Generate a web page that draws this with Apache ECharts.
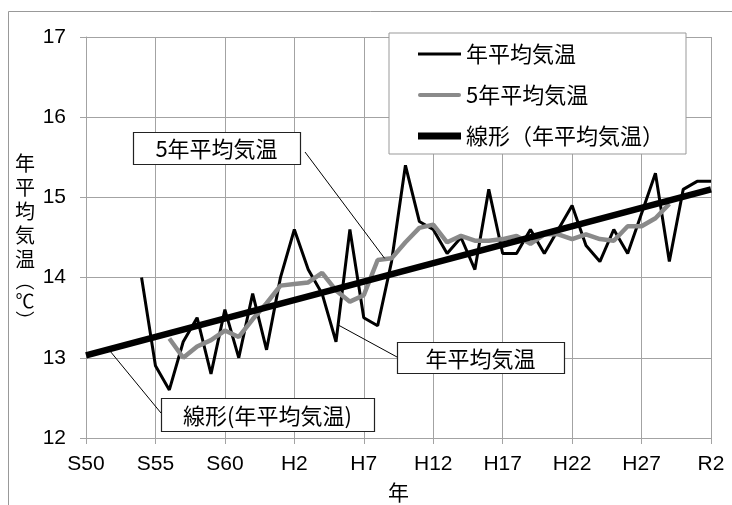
<!DOCTYPE html>
<html>
<head>
<meta charset="utf-8">
<script src="https://cdn.jsdelivr.net/npm/echarts@6/dist/echarts.min.js"></script>
<style>
  html, body { margin: 0; padding: 0; background: #fff; }
  #chart { width: 732px; height: 505px; }
</style>
</head>
<body>
<div id="chart"></div>
<script>
// One category per year, 1975 (S50) to 2020 (R2)
const yearLabels = ['S50','S51','S52','S53','S54','S55','S56','S57','S58','S59',
  'S60','S61','S62','S63','H1','H2','H3','H4','H5','H6',
  'H7','H8','H9','H10','H11','H12','H13','H14','H15','H16',
  'H17','H18','H19','H20','H21','H22','H23','H24','H25','H26',
  'H27','H28','H29','H30','R1','R2'];
// Labelled ticks on the year axis
const tickLabels = ['S50','S55','S60','H2','H7','H12','H17','H22','H27','R2'];

// Annual mean temperature (°C), from S54
const annualTemp = [null, null, null, null,
  14.0, 12.9, 12.6, 13.2, 13.5, 12.8, 13.6, 13.0, 13.8, 13.1,
  14.0, 14.6, 14.1, 13.8, 13.2, 14.6, 13.5, 13.4, 14.2, 15.4,
  14.7, 14.6, 14.3, 14.5, 14.1, 15.1, 14.3, 14.3, 14.6, 14.3,
  14.6, 14.9, 14.4, 14.2, 14.6, 14.3, 14.8, 15.3, 14.2, 15.1,
  15.2, 15.2];

// 5-year mean temperature (°C), S56 to H29
const fiveYearAvg = [null, null, null, null, null, null,
  13.24, 13.00, 13.14, 13.22, 13.34, 13.26, 13.48, 13.68, 13.90, 13.92,
  13.94, 14.06, 13.84, 13.70, 13.78, 14.22, 14.24, 14.44, 14.62, 14.66,
  14.44, 14.52, 14.46, 14.46, 14.48, 14.52, 14.42, 14.54, 14.54, 14.48,
  14.54, 14.48, 14.46, 14.64, 14.64, 14.74, 14.92,
  null, null, null];

// Linear trend of the annual mean, at the two ends of the axis
const trendYears = ['S50', 'R2'];
const trendValues = [13.03, 15.10];

const yTicks = { min: 12, max: 17, step: 1 };

const NUM_FONT = '"Liberation Sans", Arial, sans-serif';
const JP_FONT = '"Noto Sans CJK JP", "Noto Sans", sans-serif';
const GRID_COLOR = '#a3a3a3';

const chart = echarts.init(document.getElementById('chart'), null, { renderer: 'canvas' });

const isTick = (idx, val) => tickLabels.indexOf(val) >= 0;

chart.setOption({
  animation: false,
  backgroundColor: '#fff',
  grid: { left: 86, right: 21, top: 37, bottom: 67, outerBoundsMode: 'none' },
  legend: {
    orient: 'vertical',
    left: 389, top: 33,
    padding: [10, 22, 7, 29],
    itemWidth: 43, itemHeight: 7, itemGap: 19,
    backgroundColor: '#fff',
    borderColor: '#999', borderWidth: 1,
    textStyle: { fontFamily: JP_FONT, fontSize: 22, color: '#000' },
    data: [
      { name: '年平均気温', icon: 'path://M0,0H43V3H0Z' },
      { name: '5年平均気温', icon: 'path://M2,0H41A2,2 0 0 1 41,4H2A2,2 0 0 1 2,0Z' },
      { name: '線形（年平均気温）', icon: 'path://M0,0H43V7H0Z' }
    ]
  },
  xAxis: {
    type: 'category',
    data: yearLabels,
    boundaryGap: false,
    name: '年',
    nameLocation: 'middle',
    nameGap: 44,
    nameTextStyle: { fontFamily: JP_FONT, fontSize: 21, color: '#000' },
    axisLine: { show: true, lineStyle: { color: GRID_COLOR, width: 1 } },
    axisTick: { show: true, interval: isTick, length: 6, lineStyle: { color: GRID_COLOR } },
    axisLabel: { interval: isTick, margin: 16, fontFamily: NUM_FONT, fontSize: 21, color: '#000' },
    splitLine: { show: true, interval: isTick, lineStyle: { color: GRID_COLOR, width: 1 } }
  },
  yAxis: {
    type: 'value',
    min: yTicks.min, max: yTicks.max, interval: yTicks.step,
    axisLine: { show: true, lineStyle: { color: GRID_COLOR, width: 1 } },
    axisTick: { show: true, length: 6, lineStyle: { color: GRID_COLOR } },
    axisLabel: { margin: 20, fontFamily: NUM_FONT, fontSize: 21, color: '#000' },
    splitLine: { show: true, lineStyle: { color: GRID_COLOR, width: 1 } }
  },
  series: [
    {
      name: '年平均気温', type: 'line', data: annualTemp,
      symbol: 'none', z: 2,
      itemStyle: { color: '#000' },
      lineStyle: { color: '#000', width: 3 }
    },
    {
      name: '5年平均気温', type: 'line', data: fiveYearAvg,
      symbol: 'none', z: 3,
      itemStyle: { color: '#8a8a8a' },
      lineStyle: { color: '#8a8a8a', width: 4.5 }
    },
    {
      name: '線形（年平均気温）', type: 'line',
      data: trendYears.map((y, i) => [y, trendValues[i]]),
      symbol: 'none', z: 4,
      itemStyle: { color: '#000' },
      lineStyle: { color: '#000', width: 6.5 }
    }
  ]
});

// pixel position of a (possibly fractional) year index and a temperature
function dataPx(idx, val) {
  const i0 = Math.floor(idx), f = idx - i0;
  const a = chart.convertToPixel({ gridIndex: 0 }, [i0, val]);
  const b = chart.convertToPixel({ gridIndex: 0 }, [Math.min(i0 + 1, yearLabels.length - 1), val]);
  return [a[0] + (b[0] - a[0]) * f, a[1]];
}

function callout(box, label, from, to) {
  return [
    {
      type: 'line', z: 90,
      shape: { x1: from[0], y1: from[1], x2: to[0], y2: to[1] },
      style: { stroke: '#000', lineWidth: 1 }
    },
    {
      type: 'rect', z: 95,
      shape: { x: box[0] + 0.5, y: box[1] + 0.5, width: box[2], height: box[3] },
      style: { fill: '#fff', stroke: '#222', lineWidth: 1.2 }
    },
    {
      type: 'text', z: 96,
      x: box[0] + box[2] / 2, y: box[1] + box[3] / 2 + 1,
      style: {
        text: label, fill: '#000',
        font: '22px ' + JP_FONT,
        align: 'center', verticalAlign: 'middle'
      }
    }
  ];
}

// trend value at a fractional year index
const trendAt = idx => trendValues[0] + (trendValues[1] - trendValues[0]) * idx / (yearLabels.length - 1);

const avgTarget = dataPx(21.5, 14.24);
const annualTarget = dataPx(18.15, 13.41);
const trendTarget = dataPx(1.73, trendAt(1.73) - 0.025);

chart.setOption({
  graphic: [
    {
      type: 'rect', z: 0, silent: true,
      shape: { x: 8.5, y: 11.5, width: 800, height: 600 },
      style: { fill: 'none', stroke: '#999', lineWidth: 1 }
    },
    {
      type: 'text', z: 10,
      x: 25, y: 151,
      style: {
        text: '{k|年}\n{k|平}\n{k|均}\n{k|気}\n{k|温}\n{p|︵}\n{p|℃}\n{p|︶}',
        fill: '#000', align: 'center', verticalAlign: 'top',
        font: '20px ' + JP_FONT,
        rich: {
          k: { fontSize: 20, lineHeight: 24, fontFamily: JP_FONT },
          p: { fontSize: 19, lineHeight: 20, fontFamily: JP_FONT }
        }
      }
    },
    ...callout([133, 132, 167, 32], '5年平均気温', [305, 152], avgTarget),
    ...callout([397, 342, 167, 31], '年平均気温', [397, 357], annualTarget),
    ...callout([161, 398, 213, 33], '線形(年平均気温)', [161, 413], trendTarget)
  ]
});
</script>
</body>
</html>
